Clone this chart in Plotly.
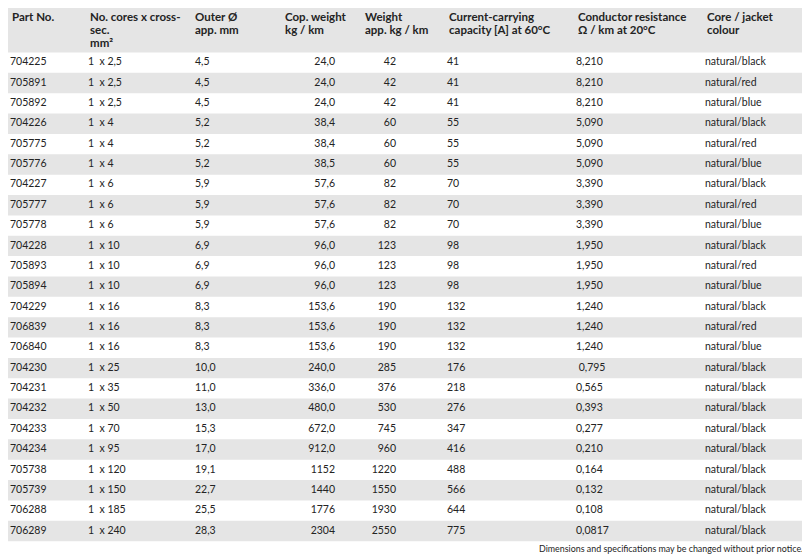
import plotly.graph_objects as go

# ---------------- data ----------------
part_no = ["704225", "705891", "705892", "704226", "705775", "705776", "704227", "705777",
           "705778", "704228", "705893", "705894", "704229", "706839", "706840", "704230",
           "704231", "704232", "704233", "704234", "705738", "705739", "706288", "706289"]
cores = ["1  x 2,5", "1  x 2,5", "1  x 2,5", "1  x 4", "1  x 4", "1  x 4", "1  x 6", "1  x 6",
         "1  x 6", "1  x 10", "1  x 10", "1  x 10", "1  x 16", "1  x 16", "1  x 16", "1  x 25",
         "1  x 35", "1  x 50", "1  x 70", "1  x 95", "1  x 120", "1  x 150", "1  x 185", "1  x 240"]
outer = ["4,5", "4,5", "4,5", "5,2", "5,2", "5,2", "5,9", "5,9", "5,9", "6,9", "6,9", "6,9",
         "8,3", "8,3", "8,3", "10,0", "11,0", "13,0", "15,3", "17,0", "19,1", "22,7", "25,5", "28,3"]
cop_weight = ["24,0", "24,0", "24,0", "38,4", "38,4", "38,5", "57,6", "57,6", "57,6", "96,0",
              "96,0", "96,0", "153,6", "153,6", "153,6", "240,0", "336,0", "480,0", "672,0",
              "912,0", "1152", "1440", "1776", "2304"]
weight = ["42", "42", "42", "60", "60", "60", "82", "82", "82", "123", "123", "123", "190",
          "190", "190", "285", "376", "530", "745", "960", "1220", "1550", "1930", "2550"]
current = ["41", "41", "41", "55", "55", "55", "70", "70", "70", "98", "98", "98", "132", "132",
           "132", "176", "218", "276", "347", "416", "488", "566", "644", "775"]
resistance = ["8,210", "8,210", "8,210", "5,090", "5,090", "5,090", "3,390", "3,390", "3,390",
              "1,950", "1,950", "1,950", "1,240", "1,240", "1,240", " 0,795", "0,565", "0,393",
              "0,277", "0,210", "0,164", "0,132", "0,108", "0,0817"]
colour = ["natural/black", "natural/red", "natural/blue"] * 5 + ["natural/black"] * 9

headers = [
    ["Part No."],
    ["No. cores x cross-", "sec.", "mm²"],
    ["Outer Ø", "app. mm"],
    ["Cop. weight", "kg / km"],
    ["Weight", "app. kg / km"],
    ["Current-carrying", "capacity [A] at 60°C"],
    ["Conductor resistance", "Ω / km at 20°C"],
    ["Core / jacket", "colour"],
]
footer = "Dimensions and specifications may be changed without prior notice."

# ---------------- layout constants ----------------
W, H = 810, 555
OFF = 8  # page body margin
FONT = "Lato"
TXT = "#232323"
GRAY = "#e5e5e5"
table_left, table_right = 4, 806
header_top, header_bottom = 4, 52.5
row_h = 20.36

# column anchors: (header x, data x, data alignment)
col_header_x = [10, 88, 193, 283, 363, 447, 576, 705]
col_data_x = [10, 88, 195, 335, 396, 447, 576, 705]
col_align = ["left", "left", "left", "right", "right", "left", "left", "left"]
columns = [part_no, cores, outer, cop_weight, weight, current, resistance, colour]

n = len(part_no)
row_y = [header_bottom + row_h * (i + 0.5) for i in range(n)]

fig = go.Figure()

shapes = [dict(type="rect", xref="x", yref="y", x0=table_left, x1=table_right,
               y0=header_top, y1=header_bottom, fillcolor=GRAY, line_width=0, layer="below")]
for i in range(n):
    if i % 2 == 1:
        shapes.append(dict(type="rect", xref="x", yref="y", x0=table_left, x1=table_right,
                           y0=header_bottom + row_h * i, y1=header_bottom + row_h * (i + 1),
                           fillcolor=GRAY, line_width=0, layer="below"))

for vals, xpos, al in zip(columns, col_data_x, col_align):
    fig.add_trace(go.Scatter(
        x=[xpos] * n, y=row_y, text=[v.replace(" ", "\u00a0") for v in vals], mode="text",
        textposition="middle right" if al == "left" else "middle left",
        textfont=dict(family=FONT, size=10.5, color=TXT),
        hoverinfo="skip", showlegend=False, cliponaxis=False))

annotations = []
for lines, xpos in zip(headers, col_header_x):
    for j, line in enumerate(lines):
        annotations.append(dict(
            x=xpos, y=16.5 + 13 * j, xref="x", yref="y", text="<b>" + line + "</b>",
            showarrow=False, xanchor="left", yanchor="middle",
            font=dict(family=FONT, size=11.5, color=TXT)))
annotations.append(dict(x=805, y=548, xref="x", yref="y", text=footer, showarrow=False,
                        xanchor="right", yanchor="middle",
                        font=dict(family=FONT, size=8.9, color=TXT)))

fig.update_layout(
    width=W - OFF, height=H - OFF, margin=dict(l=0, r=0, t=0, b=0),
    paper_bgcolor="white", plot_bgcolor="white",
    xaxis=dict(range=[OFF, W], visible=False, fixedrange=True),
    yaxis=dict(range=[H, OFF], visible=False, fixedrange=True),
    shapes=shapes, annotations=annotations,
)

fig.write_html("out.html")
